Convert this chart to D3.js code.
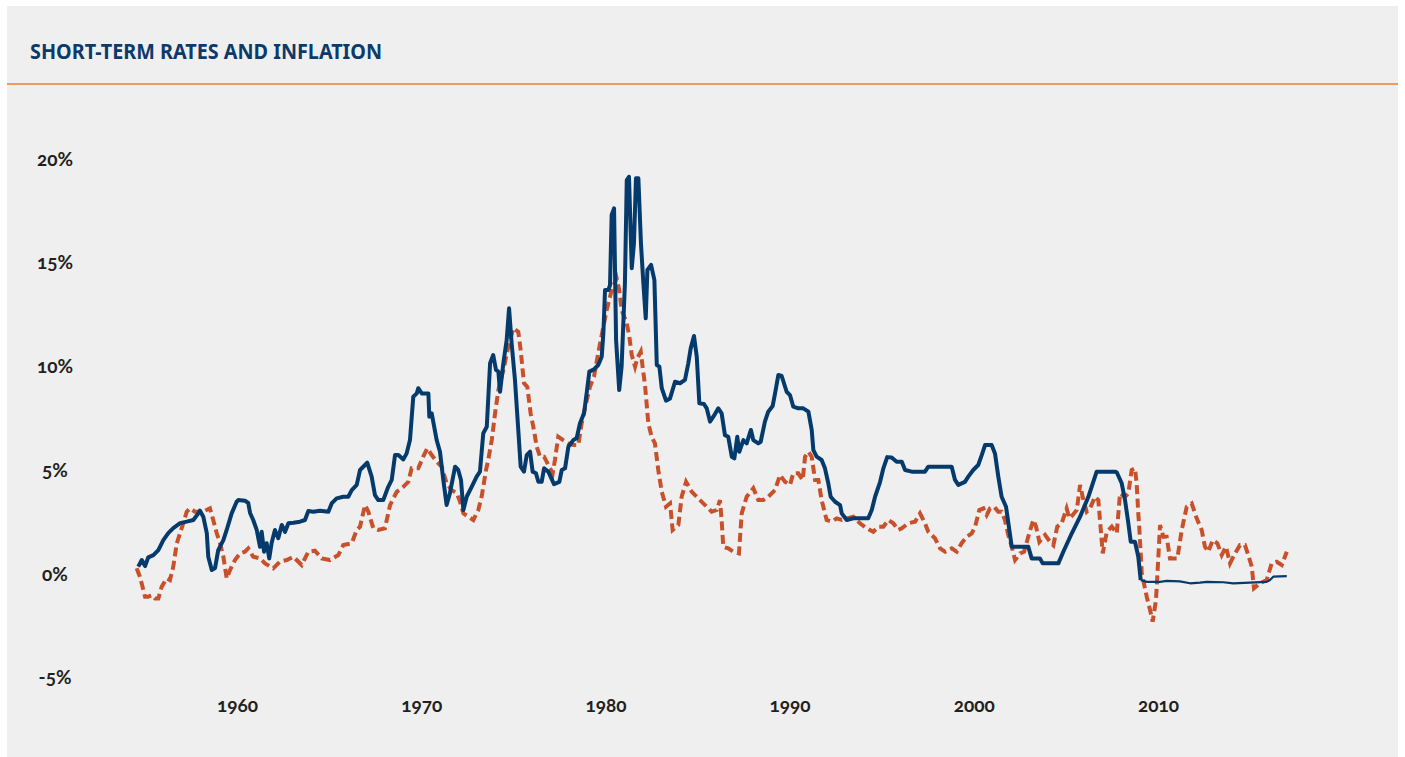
<!DOCTYPE html>
<html>
<head>
<meta charset="utf-8">
<script src="https://cdn.jsdelivr.net/npm/d3@7"></script>
<style>
  html, body { margin: 0; padding: 0; background: #ffffff; }
  svg { display: block; }
  .lbl { font-family: Lato, "Noto Sans", sans-serif; font-weight: 700; font-size: 19px; fill: #231f20; font-feature-settings: "onum" 1; font-variant-numeric: oldstyle-nums; }
  .title { font-family: "Noto Sans", "Open Sans", sans-serif; font-weight: 700; font-size: 20.5px; fill: #0b3a6b; }
</style>
</head>
<body>
<svg id="chart" width="1405" height="757"></svg>
<script>
// ---- Data (year as decimal, value in %) ----
const title = "SHORT-TERM RATES AND INFLATION";
const xTickYears = [1960, 1970, 1980, 1990, 2000, 2010];
const yTickValues = [20, 15, 10, 5, 0, -5];

// Short-term rate (solid blue)
const rateYears = [1954.64,1954.83,1955.01,1955.18,1955.46,1955.73,1956.00,1956.27,1956.54,1956.91,1957.27,1957.63,1957.90,1957.99,1958.17,1958.36,1958.44,1958.63,1958.81,1958.98,1959.26,1959.44,1959.71,1959.98,1960.07,1960.43,1960.61,1960.71,1960.88,1961.07,1961.25,1961.34,1961.47,1961.61,1961.75,1961.88,1962.06,1962.24,1962.43,1962.61,1962.79,1963.06,1963.42,1963.69,1963.87,1964.14,1964.51,1964.96,1965.14,1965.41,1965.77,1966.04,1966.23,1966.50,1966.68,1967.07,1967.31,1967.49,1967.67,1967.94,1968.21,1968.40,1968.58,1968.76,1969.03,1969.21,1969.39,1969.57,1969.76,1969.84,1970.03,1970.39,1970.44,1970.57,1970.84,1971.02,1971.20,1971.38,1971.56,1971.84,1972.01,1972.16,1972.29,1972.47,1972.74,1973.01,1973.19,1973.37,1973.56,1973.74,1973.91,1974.06,1974.19,1974.28,1974.46,1974.64,1974.77,1974.91,1975.09,1975.27,1975.40,1975.58,1975.73,1975.91,1976.05,1976.23,1976.36,1976.54,1976.67,1976.90,1977.21,1977.50,1977.63,1977.81,1977.99,1978.26,1978.44,1978.62,1978.84,1978.98,1979.13,1979.38,1979.61,1979.80,1979.89,1979.98,1980.16,1980.25,1980.34,1980.47,1980.58,1980.75,1980.88,1981.06,1981.16,1981.28,1981.43,1981.55,1981.66,1981.79,1981.93,1982.06,1982.19,1982.28,1982.48,1982.66,1982.79,1982.93,1983.06,1983.29,1983.51,1983.78,1984.05,1984.32,1984.50,1984.63,1984.81,1984.96,1985.10,1985.35,1985.50,1985.68,1985.86,1986.13,1986.31,1986.49,1986.67,1986.86,1987.00,1987.16,1987.27,1987.49,1987.67,1987.90,1988.03,1988.30,1988.43,1988.66,1988.84,1989.08,1989.21,1989.39,1989.57,1989.84,1990.02,1990.20,1990.47,1990.74,1991.02,1991.20,1991.29,1991.47,1991.74,1991.92,1992.10,1992.23,1992.47,1992.74,1992.83,1993.10,1993.46,1994.00,1994.27,1994.46,1994.64,1994.91,1995.09,1995.30,1995.54,1995.81,1996.09,1996.27,1996.63,1997.08,1997.35,1997.53,1997.99,1998.44,1998.80,1998.98,1999.16,1999.52,1999.70,1999.97,2000.24,2000.43,2000.61,2000.97,2001.15,2001.33,2001.51,2001.75,2002.06,2002.51,2002.96,2003.14,2003.59,2003.74,2004.14,2004.59,2004.86,2005.32,2005.77,2006.22,2006.67,2007.21,2007.67,2007.76,2008.03,2008.21,2008.39,2008.52,2008.75,2008.93,2009.06];
const rateValues = [0.33,0.65,0.36,0.78,0.89,1.13,1.61,1.95,2.19,2.43,2.50,2.58,2.90,3.03,2.74,1.95,0.81,0.17,0.27,1.13,1.61,2.10,2.90,3.46,3.54,3.51,3.40,2.92,2.58,2.10,1.29,2.01,1.05,1.46,0.73,1.47,2.10,1.70,2.34,2.01,2.42,2.45,2.50,2.58,3.01,2.98,3.03,2.98,3.38,3.62,3.70,3.70,4.02,4.27,4.99,5.34,4.67,3.78,3.54,3.54,4.18,4.51,5.71,5.71,5.50,5.79,6.43,8.52,8.68,8.93,8.68,8.68,7.56,7.72,6.43,5.87,4.51,3.30,3.87,5.15,4.99,4.51,3.06,3.70,4.18,4.67,4.91,6.76,7.07,10.13,10.53,9.81,9.73,8.76,10.13,11.25,12.78,11.09,9.33,6.92,5.15,4.91,5.71,5.87,4.91,4.83,4.42,4.42,5.07,4.91,4.31,4.42,4.99,5.07,6.11,6.43,6.52,7.24,7.72,8.68,9.73,9.84,10.05,10.45,11.58,13.66,13.66,13.90,17.28,17.60,11.25,8.84,9.97,13.99,18.96,19.12,14.71,15.91,19.05,19.05,15.91,13.99,12.30,14.63,14.87,14.14,10.05,9.97,8.93,8.33,8.44,9.24,9.17,9.33,10.13,10.85,11.45,10.45,8.20,8.17,7.96,7.32,7.56,7.96,7.72,6.67,6.59,5.63,5.55,6.59,5.87,6.43,6.27,6.92,6.43,6.27,6.35,7.32,7.80,8.07,8.68,9.57,9.52,8.76,8.60,8.04,7.96,7.96,7.80,6.92,5.95,5.63,5.47,5.07,4.35,3.70,3.46,3.30,2.90,2.58,2.66,2.66,2.66,3.06,3.70,4.41,5.07,5.61,5.59,5.39,5.39,4.99,4.91,4.91,4.91,5.15,5.15,5.15,5.15,4.51,4.27,4.42,4.67,4.99,5.23,5.71,6.19,6.19,5.79,4.67,3.70,3.22,1.29,1.29,1.29,0.73,0.73,0.49,0.49,0.49,1.05,1.94,2.74,3.70,4.91,4.91,4.91,4.88,4.35,3.54,2.42,1.53,1.53,0.81,-0.31];

// Short-term rate after 2009 (thinner line in the original)
const rateLateYears = [2009.06,2009.39,2010.11,2010.47,2011.19,2011.74,2012.28,2012.64,2013.55,2014.09,2014.99,2015.90,2016.08,2016.26,2016.99];
const rateLateValues = [-0.31,-0.40,-0.40,-0.35,-0.38,-0.47,-0.44,-0.40,-0.42,-0.47,-0.44,-0.40,-0.31,-0.15,-0.12];

// Inflation (dashed orange)
const inflYears = [1954.55,1954.73,1955.01,1955.18,1955.37,1955.55,1955.73,1955.91,1956.18,1956.36,1956.54,1956.73,1956.91,1957.08,1957.27,1957.45,1957.72,1957.99,1958.26,1958.53,1958.71,1958.90,1959.08,1959.26,1959.44,1959.62,1959.89,1960.16,1960.43,1960.61,1960.88,1961.25,1961.52,1961.97,1962.33,1962.70,1963.06,1963.51,1963.87,1964.23,1964.60,1965.05,1965.50,1965.77,1966.23,1966.50,1966.68,1966.95,1967.13,1967.40,1967.67,1968.03,1968.31,1968.67,1969.03,1969.30,1969.48,1969.84,1970.11,1970.33,1970.57,1970.84,1971.11,1971.38,1971.66,1971.93,1972.11,1972.29,1972.56,1972.83,1973.10,1973.28,1973.52,1973.64,1973.83,1974.01,1974.19,1974.46,1974.73,1975.00,1975.27,1975.40,1975.58,1975.76,1975.94,1976.12,1976.27,1976.45,1976.67,1976.90,1977.14,1977.26,1977.44,1977.71,1977.99,1978.26,1978.53,1978.71,1978.95,1979.16,1979.38,1979.61,1979.80,1980.07,1980.34,1980.61,1980.75,1980.88,1981.16,1981.30,1981.43,1981.61,1981.73,1981.92,1982.02,1982.15,1982.33,1982.51,1982.69,1982.87,1983.06,1983.29,1983.51,1983.65,1983.96,1984.14,1984.38,1984.69,1985.04,1985.41,1985.77,1986.04,1986.22,1986.31,1986.40,1986.67,1986.94,1987.25,1987.40,1987.67,1988.03,1988.30,1988.57,1988.84,1989.21,1989.48,1989.75,1990.02,1990.20,1990.47,1990.71,1990.84,1991.02,1991.20,1991.38,1991.56,1991.74,1992.01,1992.29,1992.56,1992.83,1993.10,1993.46,1993.82,1994.19,1994.54,1994.82,1995.09,1995.36,1995.63,1995.90,1996.09,1996.44,1996.81,1997.08,1997.35,1997.53,1997.89,1998.17,1998.44,1998.80,1999.07,1999.34,1999.61,1999.89,2000.07,2000.30,2000.52,2000.70,2000.88,2001.10,2001.33,2001.51,2001.69,2001.87,2002.06,2002.24,2002.51,2002.73,2003.01,2003.23,2003.38,2003.56,2003.87,2004.14,2004.32,2004.53,2004.77,2005.04,2005.19,2005.37,2005.59,2005.77,2005.95,2006.13,2006.31,2006.58,2006.76,2006.85,2007.00,2007.22,2007.49,2007.76,2007.94,2008.21,2008.39,2008.57,2008.75,2008.84,2008.93,2008.98,2009.12,2009.39,2009.57,2009.71,2009.89,2010.02,2010.11,2010.29,2010.47,2010.65,2011.05,2011.29,2011.56,2011.83,2012.10,2012.37,2012.55,2012.73,2012.97,2013.22,2013.46,2013.69,2013.91,2014.18,2014.45,2014.72,2014.90,2015.09,2015.21,2015.54,2015.90,2016.17,2016.44,2016.72,2016.99];
const inflValues = [0.25,-0.15,-1.12,-1.12,-1.04,-1.20,-1.20,-0.64,-0.23,-0.31,0.33,1.46,1.94,2.42,2.98,3.14,2.98,2.98,3.03,3.14,2.58,1.94,1.46,0.81,-0.23,0.17,0.65,0.97,1.05,1.21,0.81,0.73,0.49,0.25,0.57,0.65,0.81,0.41,1.05,1.10,0.73,0.65,0.89,1.37,1.46,2.10,2.26,3.30,2.98,2.18,2.10,2.18,3.30,3.94,4.18,4.42,5.07,5.07,5.63,6.03,5.71,5.39,5.15,4.35,4.02,3.87,3.46,2.90,2.74,2.58,3.06,3.70,4.99,5.47,6.43,7.72,8.84,9.81,10.93,11.82,11.65,10.77,9.17,9.00,7.72,6.92,6.11,5.63,5.63,5.23,4.83,5.47,6.59,6.43,6.27,6.19,6.19,7.24,8.20,9.00,9.48,10.63,11.49,12.70,13.66,14.23,13.66,12.70,12.06,11.41,10.53,9.97,10.37,10.69,9.97,9.08,7.24,6.59,6.27,4.99,3.94,3.22,3.38,2.10,2.34,3.70,4.42,3.94,3.62,3.30,2.98,3.06,3.54,2.58,1.29,1.21,1.05,0.97,2.90,3.70,4.11,3.54,3.54,3.70,4.02,4.75,4.42,4.27,4.83,4.83,4.51,5.63,5.87,5.63,4.51,4.51,3.54,2.58,2.50,2.66,2.58,2.66,2.74,2.42,2.18,2.01,2.26,2.26,2.58,2.42,2.10,2.18,2.42,2.50,2.90,2.42,2.01,1.70,1.21,1.05,1.21,1.05,1.46,1.77,1.94,2.26,3.06,3.14,2.82,3.14,3.22,2.98,2.98,2.58,1.86,1.29,0.65,0.97,1.05,1.94,2.58,2.26,1.53,1.86,1.53,1.37,2.26,2.42,3.14,2.66,2.82,3.06,4.27,3.54,2.98,3.14,3.70,3.54,2.58,0.97,2.01,2.26,1.94,3.87,3.70,3.87,4.99,5.07,4.35,2.90,2.26,0.01,-1.12,-1.76,-2.32,-1.28,0.81,2.34,1.77,1.77,0.73,0.73,2.10,3.22,3.38,2.66,2.10,1.29,1.05,1.61,1.46,0.89,1.29,0.49,0.97,1.37,1.37,0.89,0.33,-0.71,-0.47,-0.31,0.49,0.57,0.41,1.05];

// ---- Drawing ----
const svg = d3.select("#chart");
const W = 1405, H = 757;

svg.append("rect").attr("x", 7).attr("y", 6).attr("width", 1391).attr("height", H - 6).attr("fill", "#efefef");

svg.append("text").attr("class", "title")
  .attr("x", 30).attr("y", 58.5)
  .attr("textLength", 352).attr("lengthAdjust", "spacingAndGlyphs")
  .text(title);

svg.append("line").attr("x1", 7).attr("x2", 1398).attr("y1", 84).attr("y2", 84)
  .attr("stroke", "#e8822a").attr("stroke-width", 1.6);

const x = d3.scaleLinear().domain([1960, 2010]).range([237, 1158]);
const y = d3.scaleLinear().domain([-5, 20]).range([677.3, 158.5]);

// Y labels
const yAxis = d3.axisLeft(y).tickValues(yTickValues).tickFormat(d => d + "%").tickSize(0).tickPadding(0);
const gy = svg.append("g").attr("transform", "translate(55,0)").call(yAxis);
gy.select(".domain").remove();
gy.selectAll("text").attr("class", "lbl").attr("text-anchor", "middle").attr("dy", "0.35em").attr("x", 0)
  .attr("font-size", null).attr("font-family", null).attr("fill", null);
gy.attr("font-size", null).attr("font-family", null);

// X labels
const xAxis = d3.axisBottom(x).tickValues(xTickYears).tickFormat(d3.format("d")).tickSize(0).tickPadding(0);
const gx = svg.append("g").attr("transform", "translate(0,705)").call(xAxis);
gx.select(".domain").remove();
gx.selectAll("text").attr("class", "lbl").attr("dy", "0.35em").attr("y", 0)
  .attr("font-size", null).attr("font-family", null).attr("fill", null);
gx.attr("font-size", null).attr("font-family", null);

const line = d3.line().x(d => x(d[0])).y(d => y(d[1]));

const inflData = inflYears.map((yr, i) => [yr, inflValues[i]]);
const rateData = rateYears.map((yr, i) => [yr, rateValues[i]]);
const rateLate = rateLateYears.map((yr, i) => [yr, rateLateValues[i]]);

svg.append("path").datum(inflData).attr("d", line)
  .attr("fill", "none").attr("stroke", "#c8502a").attr("stroke-width", 4)
  .attr("stroke-dasharray", "9,4.5");

svg.append("path").datum(rateData).attr("d", line)
  .attr("fill", "none").attr("stroke", "#043a6c").attr("stroke-width", 4)
  .attr("stroke-linejoin", "round");

svg.append("path").datum(rateLate).attr("d", line)
  .attr("fill", "none").attr("stroke", "#043a6c").attr("stroke-width", 2.2)
  .attr("stroke-linejoin", "round");
</script>
</body>
</html>
